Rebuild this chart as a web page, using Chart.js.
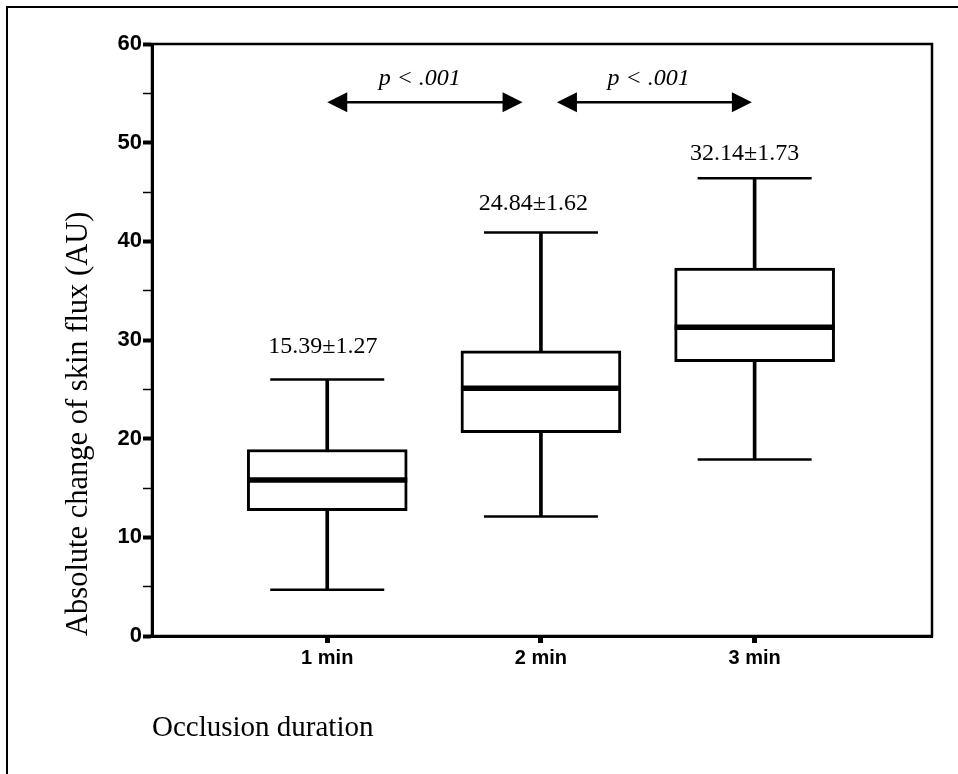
<!DOCTYPE html>
<html>
<head>
<meta charset="utf-8">
<script src="https://cdn.jsdelivr.net/npm/chart.js@4.4.1/dist/chart.umd.min.js"></script>
<style>
  html, body { margin: 0; padding: 0; background: #fff; }
  canvas { display: block; }
</style>
</head>
<body>
<canvas id="fluxChart" width="958" height="774"></canvas>
<script>
const categories = ['1 min', '2 min', '3 min'];
const xPos = [1, 2, 3];
const whiskerMin = [4.7, 12.1, 17.9];
const boxLow = [12.7, 20.6, 27.8];
const medians = [15.8, 25.1, 31.3];
const boxHigh = [18.9, 28.9, 37.3];
const whiskerMax = [26.0, 40.9, 46.4];
const meanLabels = ['15.39±1.27', '24.84±1.62', '32.14±1.73'];
const pLabel = 'p < .001';

// where the annotations sit, in axis units
const meanLabelAt = [[0.98, 29.3], [1.965, 43.8], [2.953, 48.9]];
const arrowSpans = [[1.0, 1.914], [2.075, 2.987]];
const arrowY = 54.1;
const pLabelAt = [[1.433, 56.5], [2.504, 56.5]];

const serif = '"Liberation Serif", "Times New Roman", serif';
const sans = '"Liberation Sans", Arial, sans-serif';

function arrow(ctx, x1, x2, y) {
  const len = 20, half = 10;
  ctx.lineWidth = 2.5;
  ctx.beginPath();
  ctx.moveTo(x1 + 5, y);
  ctx.lineTo(x2 - 5, y);
  ctx.stroke();
  ctx.beginPath();
  ctx.moveTo(x1, y);
  ctx.lineTo(x1 + len, y - half);
  ctx.lineTo(x1 + len, y + half);
  ctx.closePath();
  ctx.fill();
  ctx.beginPath();
  ctx.moveTo(x2, y);
  ctx.lineTo(x2 - len, y - half);
  ctx.lineTo(x2 - len, y + half);
  ctx.closePath();
  ctx.fill();
}

const extras = {
  id: 'extras',
  afterDraw(chart) {
    const {ctx, chartArea: a} = chart;
    const x = chart.scales.x, y = chart.scales.y;
    ctx.save();
    ctx.strokeStyle = '#000';
    ctx.fillStyle = '#000';

    // frame round the plot
    ctx.lineWidth = 2.5;
    ctx.strokeRect(a.left, a.top, a.right - a.left, a.bottom - a.top);

    // outer figure border (left and top)
    ctx.lineWidth = 2;
    ctx.beginPath();
    ctx.moveTo(7, 774);
    ctx.lineTo(7, 7);
    ctx.lineTo(958, 7);
    ctx.stroke();

    ctx.textAlign = 'center';
    ctx.textBaseline = 'middle';
    ctx.font = '24px ' + serif;
    meanLabels.forEach((t, i) => {
      ctx.fillText(t, x.getPixelForValue(meanLabelAt[i][0]), y.getPixelForValue(meanLabelAt[i][1]));
    });

    ctx.font = 'italic 24px ' + serif;
    pLabelAt.forEach(p => {
      ctx.fillText(pLabel, x.getPixelForValue(p[0]), y.getPixelForValue(p[1]));
    });

    const ay = y.getPixelForValue(arrowY);
    arrowSpans.forEach(s => arrow(ctx, x.getPixelForValue(s[0]), x.getPixelForValue(s[1]), ay));
    ctx.restore();
  }
};

const ctx = document.getElementById('fluxChart').getContext('2d');

new Chart(ctx, {
  type: 'bar',
  data: {
    datasets: [
      {
        type: 'scatter',
        data: xPos.map((v, i) => ({x: v, y: medians[i]})),
        pointStyle: 'line',
        pointRadius: 80,
        pointBorderWidth: 5.5,
        pointBorderColor: '#000',
        pointBackgroundColor: '#000',
        clip: false,
        order: 0
      },
      {
        type: 'scatter',
        data: xPos.map((v, i) => ({x: v, y: whiskerMin[i]}))
          .concat(xPos.map((v, i) => ({x: v, y: whiskerMax[i]}))),
        pointStyle: 'line',
        pointRadius: 57,
        pointBorderWidth: 2.5,
        pointBorderColor: '#000',
        pointBackgroundColor: '#000',
        clip: false,
        order: 1
      },
      {
        data: xPos.map((v, i) => ({x: v, y: [boxLow[i], boxHigh[i]]})),
        backgroundColor: '#fff',
        borderColor: '#000',
        borderWidth: 3,
        borderSkipped: false,
        grouped: false,
        barPercentage: 1,
        categoryPercentage: 1,
        maxBarThickness: 160,
        order: 2
      },
      {
        data: xPos.map((v, i) => ({x: v, y: [whiskerMin[i], whiskerMax[i]]})),
        backgroundColor: '#000',
        borderWidth: 0,
        grouped: false,
        barPercentage: 1,
        categoryPercentage: 1,
        maxBarThickness: 3,
        order: 3
      }
    ]
  },
  options: {
    responsive: false,
    animation: false,
    devicePixelRatio: 1,
    events: [],
    layout: { autoPadding: false, padding: { left: 0, top: 44, right: 26, bottom: 0 } },
    plugins: {
      legend: { display: false },
      tooltip: { enabled: false }
    },
    scales: {
      x: {
        type: 'linear',
        min: 0.18,
        max: 3.83,
        offset: false,
        afterBuildTicks: s => { s.ticks = xPos.map(v => ({value: v})); },
        afterFit: s => { s.height = 138; },
        ticks: {
          callback: v => categories[xPos.indexOf(v)],
          font: { family: sans, size: 20, weight: 'bold' },
          color: '#000',
          padding: 3,
          maxRotation: 0,
          autoSkip: false
        },
        grid: {
          offset: false,
          drawOnChartArea: false,
          tickLength: 7,
          tickWidth: 5,
          tickColor: '#000'
        },
        border: { color: '#000', width: 3 },
        title: {
          display: true,
          text: 'Occlusion duration',
          align: 'start',
          color: '#000',
          font: { family: serif, size: 29 },
          padding: { top: 0, bottom: 28 }
        }
      },
      y: {
        min: 0,
        max: 60,
        afterFit: s => { s.width = 152; },
        ticks: {
          stepSize: 5,
          callback: v => (v % 10 === 0 ? v : ''),
          font: { family: sans, size: 22, weight: 'bold' },
          color: '#000',
          padding: 1,
          autoSkip: false
        },
        grid: {
          drawOnChartArea: false,
          tickLength: 9,
          tickWidth: c => (c.tick && c.tick.value % 10 === 0 ? 4 : 1.5),
          tickColor: '#000'
        },
        border: { color: '#000', width: 3 },
        title: {
          display: true,
          text: 'Absolute change of skin flux (AU)',
          align: 'start',
          color: '#000',
          font: { family: serif, size: 30.5 },
          padding: { top: 61, bottom: 0 }
        }
      }
    }
  },
  plugins: [extras]
});
</script>
</body>
</html>
